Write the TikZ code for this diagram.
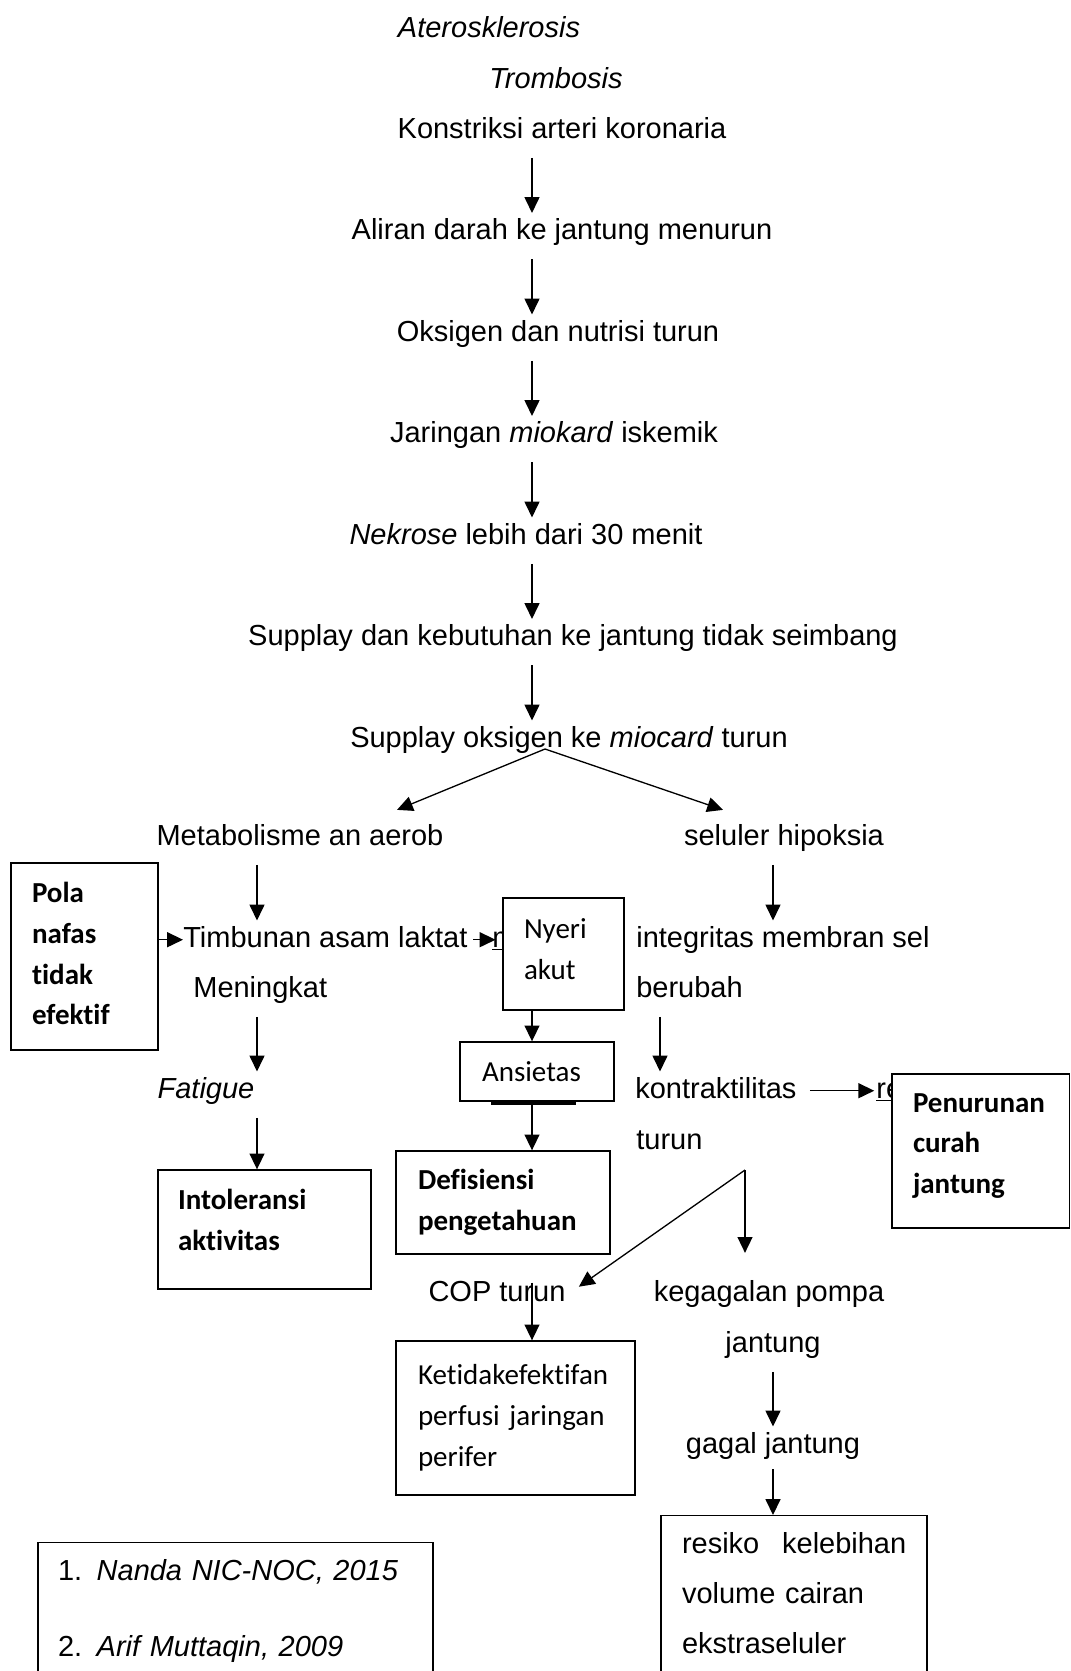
\documentclass[tikz,border=0pt]{standalone}
\usepackage{fontspec}
\setmainfont{Liberation Sans}
\newfontfamily\boxfont[Ligatures=NoCommon]{Carlito}
\usetikzlibrary{arrows.meta,calc,positioning}

\tikzset{
  flow text/.style={inner sep=0pt,text height=12.4pt,text depth=4.1pt,font=\fontsize{16.5pt}{20pt}\selectfont},
  dx box/.style={draw,line width=0.8pt,fill=white,align=left,inner ysep=0pt,font=\boxfont\fontsize{16.5pt}{23.2pt}\selectfont},
  dx bold/.style={dx box,font=\boxfont\bfseries\fontsize{16.5pt}{23.2pt}\selectfont},
  flow arrow/.style={-{Triangle[length=9pt,width=8.5pt]},line width=0.75pt,shorten <=7pt,shorten >=2.5pt},
}

\begin{document}
\begin{tikzpicture}[x=0.02cm,y=-0.02cm]
\useasboundingbox (0,0) rectangle (1071,1671);

% columns of the arrows
\coordinate (cL) at (257,0);
\coordinate (cM) at (532,0);
\coordinate (cR2) at (660,0);
\coordinate (cR) at (773,0);

% main chain
\node[flow text,anchor=base] (ater) at (489,37) {\textit{Aterosklerosis}};
\node[flow text,anchor=base] (tromb) at (556,88) {\textit{Trombosis}};
\node[flow text,anchor=base] (konstr) at (562,138) {Konstriksi arteri koronaria};
\node[flow text,anchor=base] (aliran) at (562,239.5) {Aliran darah ke jantung menurun};
\node[flow text,anchor=base] (oksigen) at (558,341) {Oksigen dan nutrisi turun};
\node[flow text,anchor=base] (jaringan) at (554,442.5) {Jaringan \textit{miokard} iskemik};
\node[flow text,anchor=base] (nekrose) at (526,544) {\textit{Nekrose} lebih dari 30 menit};
\node[flow text,anchor=base] (supplay) at (573,645.5) {Supplay dan kebutuhan ke jantung tidak seimbang};
\node[flow text,anchor=base] (supplayO) at (569,747) {Supplay oksigen ke \textit{miocard} turun};

% branches
\node[flow text,anchor=base] (metab) at (300,845) {Metabolisme an aerob};
\node[flow text,anchor=base] (selul) at (784,845) {seluler hipoksia};
\node[flow text,anchor=base west] (timb) at (183,947) {Timbunan asam laktat};
\node[flow text,anchor=base west] (mfrag) at (492,947) {\underline{m}};
\node[flow text,anchor=base west] (menin) at (193,997) {Meningkat};
\node[flow text,anchor=base] (fatig) at (206,1098) {\textit{Fatigue}};
\node[flow text,anchor=base west] (integ) at (636,947) {integritas membran sel};
\node[flow text,anchor=base west] (berub) at (636,997) {berubah};
\node[flow text,anchor=base west] (kontr) at (635,1098) {kontraktilitas};
\node[flow text,anchor=base west] (refrag) at (876,1098) {\underline{re}};
\node[flow text,anchor=base west] (turun) at (636,1149) {turun};
\node[flow text,anchor=base] (cop) at (497,1301) {COP turun};
\node[flow text,anchor=base] (kegag) at (769,1301) {kegagalan pompa};
\node[flow text,anchor=base] (jant) at (773,1352) {jantung};
\node[flow text,anchor=base] (gagal) at (773,1453) {gagal jantung};

% diagnosis boxes
\node[dx bold,minimum width=2.94cm,minimum height=3.74cm,text width=2.10cm,inner xsep=0.42cm] (pola) at (84.5,956.5) {Pola\\nafas\\tidak\\efektif\rule[-0.12cm]{0pt}{0pt}};
\node[dx bold,minimum width=4.26cm,minimum height=2.38cm,text width=3.46cm,inner xsep=0.40cm] (intol) at (264.5,1229.5) {Intoleransi\\aktivitas\rule[-0.38cm]{0pt}{0pt}};
\node[dx box,minimum width=2.42cm,minimum height=2.24cm,text width=1.58cm,inner xsep=0.42cm] (nyeri) at (563.5,954) {Nyeri\\akut\rule[-0.2cm]{0pt}{0pt}};
\node[dx box,minimum width=3.08cm,minimum height=1.18cm,text width=2.20cm,inner xsep=0.44cm] (ansie) at (537,1071.5) {Ansietas};
\node[dx bold,minimum width=4.28cm,minimum height=2.06cm,text width=3.40cm,inner xsep=0.44cm] (defis) at (503,1202.5) {Defisiensi\\pengetahuan};
\node[dx box,minimum width=4.78cm,minimum height=3.08cm,text width=3.90cm,inner xsep=0.44cm] (ketid) at (515.5,1418) {Ketidakefektifan\\perfusi jaringan\\perifer};
\node[dx bold,minimum width=3.55cm,minimum height=3.08cm,text width=2.71cm,inner xsep=0.42cm] (penur) at (980.75,1151) {Penurunan\\curah\\jantung\rule[-0.3cm]{0pt}{0pt}};
\node[dx box,anchor=north,font=\fontsize{16.5pt}{28.3pt}\selectfont,text width=4.48cm,inner xsep=0.42cm,inner ysep=0.34cm] (resiko) at (794,1515) {\mbox{resiko\hspace{13pt}kelebihan}\\volume cairan\\ekstraseluler\rule[-1.5cm]{0pt}{0pt}};
\node[dx box,anchor=north,font=\fontsize{16.5pt}{43pt}\selectfont,text width=7.1cm,inner xsep=0.4cm,inner ysep=0.34cm] (refs) at (235.5,1542) {1. \textit{Nanda NIC-NOC, 2015}\\2.~\,\textit{Arif Muttaqin, 2009}\rule[-1.5cm]{0pt}{0pt}};

\draw[line width=1.6pt] ($(ansie.south west)+(32,2)$) -- ($(ansie.south west)+(117,2)$);

% arrows
\foreach \a/\b in {konstr/aliran,aliran/oksigen,oksigen/jaringan,jaringan/nekrose,nekrose/supplay,supplay/supplayO}
  \draw[flow arrow] (\a.south -| cM) -- (\b.north -| cM);

\coordinate (split) at (545,749);
\draw[flow arrow,shorten <=0pt,shorten >=0pt] (split) -- ($(metab.north)+(97,-13)$);
\draw[flow arrow,shorten <=0pt,shorten >=0pt] (split) -- ($(selul.north)+(-61,-13)$);

\draw[flow arrow] (metab.south -| cL) -- (timb.north -| cL);
\draw[flow arrow] (menin.south -| cL) -- (fatig.north -| cL);
\draw[flow arrow,shorten >=0pt] (fatig.south -| cL) -- (intol.north -| cL);
\draw[flow arrow,shorten <=0pt,shorten >=0pt] (pola.east |- timb.west) -- (timb.west);
\draw[flow arrow,shorten <=3pt,shorten >=-2pt] (timb.east) -- (mfrag.west);

\draw[flow arrow,shorten <=0pt,shorten >=0pt] (nyeri.south -| cM) -- (ansie.north -| cM);
\draw[flow arrow,shorten <=0pt,shorten >=0pt] (ansie.south -| cM) -- (defis.north -| cM);
\draw[flow arrow,shorten <=0pt,shorten >=0pt] ($(cop.center -| cM)+(0,-11)$) -- (ketid.north -| cM);

\draw[flow arrow] (selul.south -| cR) -- (integ.north -| cR);
\draw[flow arrow] (berub.south -| cR2) -- (kontr.north -| cR2);
\draw[flow arrow,shorten <=7.4pt,shorten >=1pt] (kontr.east) -- (refrag.west);

\coordinate (kfork) at (745,1170);
\draw[flow arrow,shorten <=0pt,shorten >=0pt] (kfork) -- ($(cop.east)+(13,-7)$);
\draw[flow arrow,shorten <=0pt,shorten >=0pt] (kfork) -- ($(kegag.north -| kfork)+(0,-26)$);

\draw[flow arrow] (jant.south -| cR) -- (gagal.north -| cR);
\draw[flow arrow,shorten <=5pt,shorten >=0pt] (gagal.south -| cR) -- (resiko.north -| cR);

\end{tikzpicture}
\end{document}
